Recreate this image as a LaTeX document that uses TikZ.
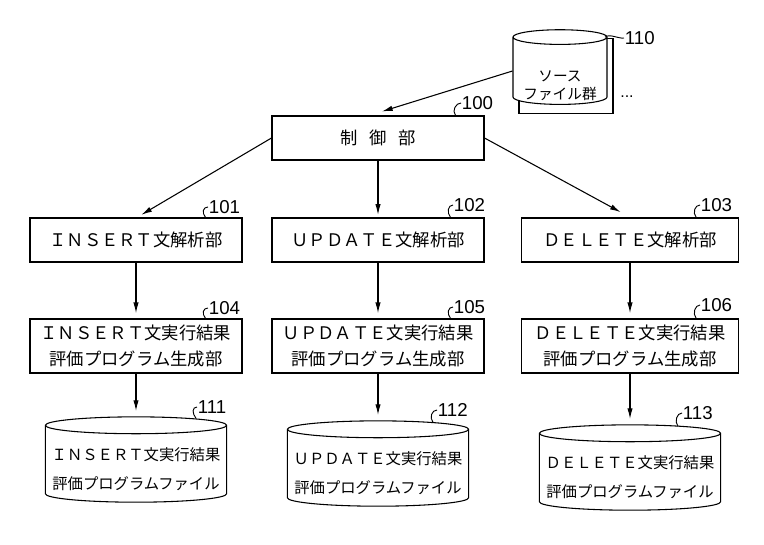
\documentclass[tikz,border=0pt]{standalone}
\usepackage{fontspec}
\setmainfont{Liberation Sans}
\newfontfamily\jpfont{Noto Sans CJK JP}
\usetikzlibrary{arrows.meta,positioning,shapes.geometric,calc}
% text set lower than the shape centre
\newcommand{\lowtext}[2]{\raisebox{#1}[\height][\depth]{\begin{tabular}{@{}c@{}}#2\end{tabular}}}
\tikzset{
  unit/.style={draw,line width=0.8pt,fill=white,inner sep=0pt,align=center,
    minimum width=159pt,minimum height=33pt,
    font=\jpfont\fontsize{13}{19.5}\selectfont},
  unittwo/.style={unit,minimum height=40.5pt},
  db/.style={draw,line width=0.8pt,fill=white,cylinder,shape border rotate=90,
    shape aspect=0.1,inner sep=0pt,
    minimum width=136pt,minimum height=64pt,
    font=\jpfont\fontsize{11.5}{21.5}\selectfont},
  srcdb/.style={db,minimum width=70.5pt,minimum height=56pt,shape aspect=0.2,
    font=\jpfont\fontsize{11}{13.5}\selectfont},
  num/.style={anchor=west,inner sep=0.5pt,font=\fontsize{14}{16}\selectfont},
  leader/.style={line width=0.7pt},
  flow/.style={-{Latex[length=8pt,width=4pt]},line width=0.8pt}
}
\begin{document}
\begin{tikzpicture}[x=0.75pt,y=-0.75pt]
  \useasboundingbox (0,0) rectangle (764,544);
  % Source files
  \node[srcdb] (srcback) at (566,76) {};
  \node[srcdb] (src) at (560,71) {\lowtext{-12pt}{ソース\\ファイル群}};
  \node[inner sep=0pt,font=\fontsize{12}{14}\selectfont] (dots) at (627,97) {...};
  % Control unit
  \node[unit] (ctrl) at (378,138) {制\hspace{9pt}御\hspace{9pt}部};
  % Statement analysers
  \node[unit] (ins) at (136,240) {ＩＮＳＥＲＴ文解析部};
  \node[unit] (upd) at (378,240) {ＵＰＤＡＴＥ文解析部};
  \node[unit,minimum width=163pt] (del) at (630,240) {ＤＥＬＥＴＥ文解析部};
  % Program generators
  \node[unittwo] (insgen) at (136,346) {ＩＮＳＥＲＴ文実行結果\\評価プログラム生成部};
  \node[unittwo] (updgen) at (378,346) {ＵＰＤＡＴＥ文実行結果\\評価プログラム生成部};
  \node[unittwo,minimum width=163pt] (delgen) at (630,346) {ＤＥＬＥＴＥ文実行結果\\評価プログラム生成部};
  % Program files
  \node[db] (insfile) at (136,464) {\lowtext{-4pt}{ＩＮＳＥＲＴ文実行結果\\評価プログラムファイル}};
  \node[db] (updfile) at (378,468) {\lowtext{-4pt}{ＵＰＤＡＴＥ文実行結果\\評価プログラムファイル}};
  \node[db] (delfile) at (630,472) {\lowtext{-4pt}{ＤＥＬＥＴＥ文実行結果\\評価プログラムファイル}};
  % Flow
  \draw[flow] (src.west) -- ([xshift=3pt,yshift=3pt]ctrl.north);
  \draw[flow] (ctrl.west) -- ([xshift=4pt,yshift=2pt]ins.north);
  \draw[flow] (ctrl.south) -- ([yshift=2pt]upd.north);
  \draw[flow] (ctrl.east) -- ([xshift=-7pt,yshift=4pt]del.north);
  \draw[flow] (ins.south) -- ([yshift=4pt]insgen.north);
  \draw[flow] (upd.south) -- ([yshift=4pt]updgen.north);
  \draw[flow] (del.south) -- ([yshift=4pt]delgen.north);
  \draw[flow] (insgen.south) -- ([yshift=4pt]insfile.north);
  \draw[flow] (updgen.south) -- ([yshift=4pt]updfile.north);
  \draw[flow] (delgen.south) -- ([yshift=4pt]delfile.north);
  % Reference numerals
  \node[num] (n110) at (624,38) {110};
  \node[num] (n100) at (461,103) {100};
  \node[num] (n101) at (208,207) {101};
  \node[num] (n102) at (453,205) {102};
  \node[num] (n103) at (700,205) {103};
  \node[num] (n104) at (208,308) {104};
  \node[num] (n105) at (453,307) {105};
  \node[num] (n106) at (700,305) {106};
  \node[num] (n111) at (197,407) {111};
  \node[num] (n112) at (437,410) {112};
  \node[num] (n113) at (682,413) {113};
  \draw[leader] ($(src.north)+(45,8)$) .. controls +(4,-4) and +(-5,1) .. (n110.west);
  \draw[leader] ($(ctrl.north east)+(-29,0)$) .. controls +(-4,-5) and +(-5,0) .. (n100.west);
  \draw[leader] ($(ins.north east)+(-37,0)$) .. controls +(-4,-5) and +(-5,0) .. (n101.west);
  \draw[leader] ($(upd.north east)+(-34,0)$) .. controls +(-4,-5) and +(-5,0) .. (n102.west);
  \draw[leader] ($(del.north east)+(-43,0)$) .. controls +(-4,-5) and +(-5,0) .. (n103.west);
  \draw[leader] ($(insgen.north east)+(-37,0)$) .. controls +(-4,-5) and +(-5,0) .. (n104.west);
  \draw[leader] ($(updgen.north east)+(-34,0)$) .. controls +(-4,-5) and +(-5,0) .. (n105.west);
  \draw[leader] ($(delgen.north east)+(-43,0)$) .. controls +(-4,-5) and +(-5,0) .. (n106.west);
  \draw[leader] ($(insfile.north)+(60,2)$) .. controls +(-4,-5) and +(-5,0) .. (n111.west);
  \draw[leader] ($(updfile.north)+(55,2)$) .. controls +(-4,-5) and +(-5,0) .. (n112.west);
  \draw[leader] ($(delfile.north)+(48,2)$) .. controls +(-4,-5) and +(-5,0) .. (n113.west);
\end{tikzpicture}
\end{document}
